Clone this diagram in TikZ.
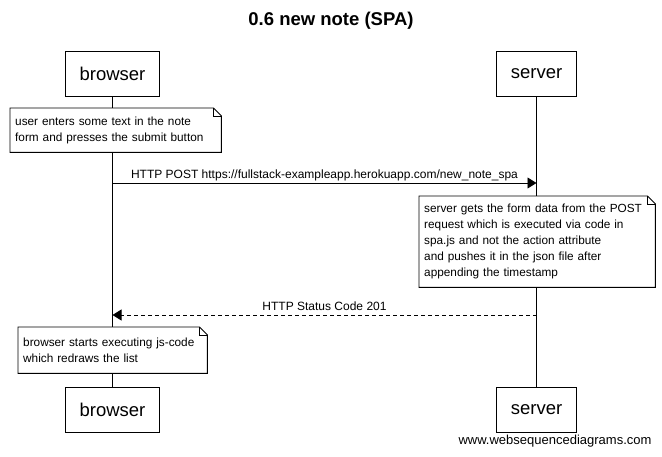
\documentclass[tikz,border=0pt]{standalone}
\usepackage{fontspec}
\setmainfont{Liberation Sans}
\usetikzlibrary{arrows.meta}

\tikzset{
  actor/.style={draw, line width=0.9pt, minimum height=45pt, inner xsep=14pt, font=\fontsize{18.5}{20}\selectfont},
  notebox/.style={anchor=north west, fill=white, inner xsep=5pt, inner ysep=0pt, align=left, font=\fontsize{11.8}{16}\selectfont},
  msglabel/.style={above=2pt, inner sep=0pt, text depth=2.5pt, font=\fontsize{12}{14}\selectfont},
  msg/.style={line width=0.9pt, -{Triangle[length=9pt,width=11pt]}},
}

\begin{document}
\begin{tikzpicture}[x=1pt,y=-1pt]
    \useasboundingbox (0,0) rectangle (662,456);
    \node[font=\bfseries\fontsize{18.5}{20}\selectfont] (title) at (331,21) {0.6 new note (SPA)};

    % participants, top and bottom
    \node[actor] (top-browser) at (112.5,73.5) {browser};
    \node[actor] (top-server) at (536.5,73.5) {server};
    \node[actor] (bot-browser) at (112.5,410) {browser};
    \node[actor] (bot-server) at (536.5,410) {server};
    \foreach \a in {browser,server}
        \draw[line width=0.9pt] (top-\a) -- (bot-\a);

    % notes
    \node[notebox, text width=201pt, minimum height=44pt] (note-user) at (10,108)
        {user enters some text in the note\\form and presses the submit button};
    \node[notebox, text width=226pt, minimum height=91pt] (note-server) at (419,196)
        {server gets the form data from the POST\\request which is executed via code in\\spa.js and not the action attribute\\and pushes it in the json file after\\appending the timestamp};
    \node[notebox, text width=179pt, minimum height=46pt] (note-browser) at (18,327)
        {browser starts executing js-code\\which redraws the list};
    \foreach \n in {note-user,note-server,note-browser}{
        \draw[line width=0.9pt] (\n.south west) -- (\n.north west) -- ([xshift=-8pt]\n.north east)
            -- ([yshift=-8pt]\n.north east) -- (\n.south east) -- cycle;
        \draw[line width=0.6pt] ([xshift=-8pt]\n.north east) -- ([xshift=-8pt,yshift=-8pt]\n.north east)
            -- ([yshift=-8pt]\n.north east);
    }

    % messages
    \coordinate (post-b) at (top-browser |- 0,183);
    \coordinate (post-s) at (top-server |- 0,183);
    \draw[msg] (post-b) -- node[msglabel] (post-label) {HTTP POST https://fullstack-exampleapp.herokuapp.com/new\_note\_spa} (post-s);
    \coordinate (ack-s) at (top-server |- 0,315);
    \coordinate (ack-b) at (top-browser |- 0,315);
    \draw[msg, dash pattern=on 4pt off 3pt] (ack-s) -- node[msglabel] (ack-label) {HTTP Status Code 201} (ack-b);

    \node[anchor=east, font=\fontsize{13}{15}\selectfont] (credit) at (655,441) {www.websequencediagrams.com};
\end{tikzpicture}
\end{document}
